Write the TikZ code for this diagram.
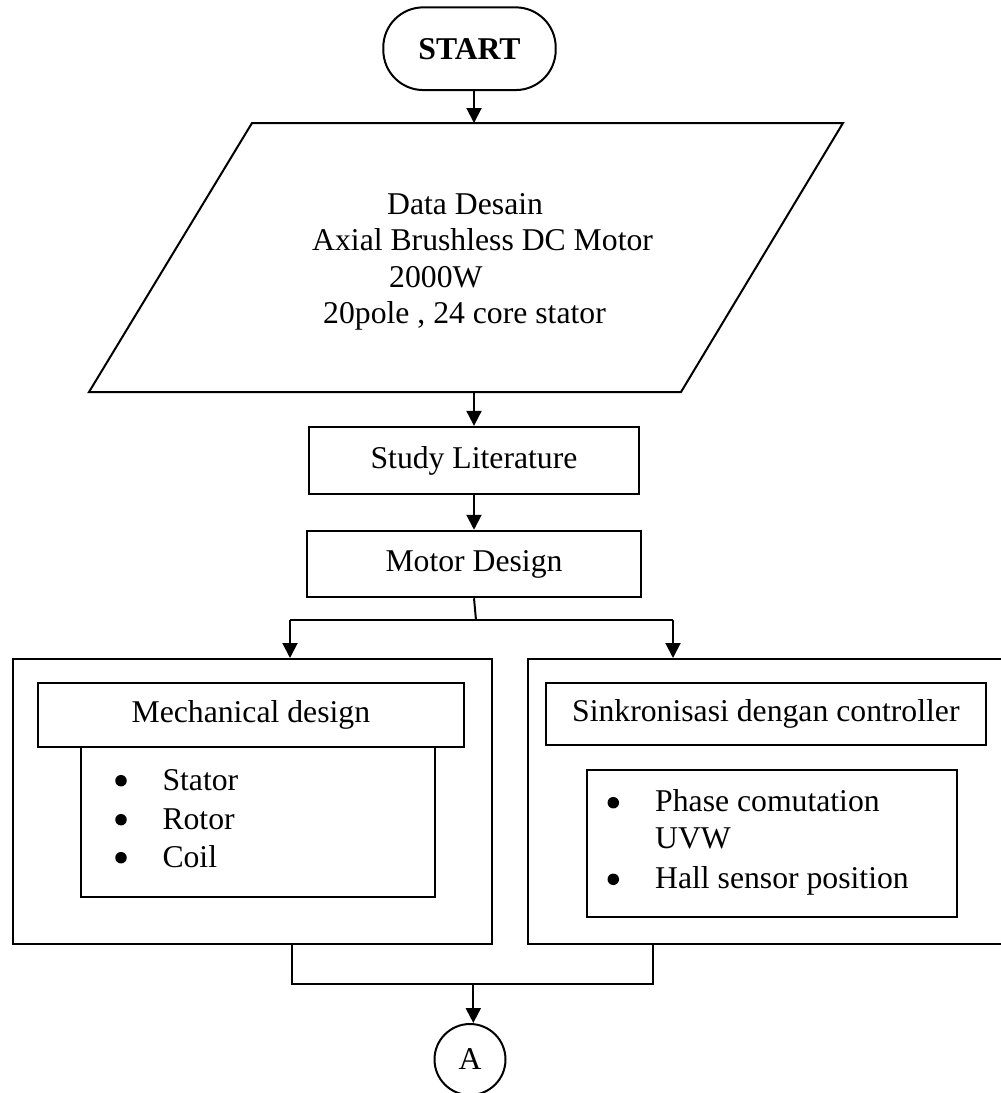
\documentclass[tikz,border=0pt]{standalone}
\usepackage{fontspec}
\setmainfont{Liberation Serif}
\usetikzlibrary{arrows.meta}
\newcommand{\myfs}{\fontsize{31.7pt}{38pt}\selectfont}
\tikzset{
  ln/.style={line width=2pt},
  boxnode/.style={draw, ln, rectangle, inner sep=0pt, align=center},
  arr/.style={ln, -{Triangle[length=15pt,width=15pt]}},
  txt/.style={inner sep=0pt, anchor=base west},
  bul/.style={circle, fill=black, inner sep=0pt, minimum size=11.5pt},
}
\begin{document}
\begin{tikzpicture}[x=1pt, y=-1pt, font=\myfs]
\useasboundingbox (0,0) rectangle (1001,1093);

% START
\node[boxnode, rounded corners=40pt, minimum width=172.4pt, minimum height=82.7pt, font=\myfs\bfseries] (start) at (469.5,48.7) {START};

% Data parallelogram
\coordinate (pTL) at (252,123);
\coordinate (pTR) at (843,123);
\coordinate (pBR) at (681,392);
\coordinate (pBL) at (89,392);
\draw[ln] (pTL) -- (pTR) -- (pBR) -- (pBL) -- cycle;
\coordinate (dtop) at (474,123);
\coordinate (dbot) at (474,392);
\node[txt] (d1) at (387,214) {Data Desain};
\node[txt] (d2) at (312,250) {Axial Brushless DC Motor};
\node[txt] (d3) at (389,287) {2000W};
\node[txt] (d4) at (323,323) {20pole , 24 core stator};

% Study / Motor
\node[boxnode, minimum width=330pt, minimum height=67.3pt] (study) at (474,460.5) {Study Literature};
\node[boxnode, minimum width=334pt, minimum height=66.5pt] (motor) at (474,564) {Motor Design};

% Outer boxes
\node[boxnode, minimum width=479pt, minimum height=285pt] (lout) at (252.5,801.5) {};
\node[boxnode, minimum width=482.3pt, minimum height=285pt] (rout) at (768.85,801.5) {};

% Left inner
\node[boxnode, minimum width=426.3pt, minimum height=63.4pt] (mech) at (250.85,715) {Mechanical design};
\node[boxnode, minimum width=354pt, minimum height=150pt] (llist) at (258,822) {};
\node[bul] (lb1) at (121,780.7) {};
\node[bul] (lb2) at (121,819.7) {};
\node[bul] (lb3) at (121,857.7) {};
\node[txt] (lt1) at (162.3,790) {Stator};
\node[txt] (lt2) at (162.3,829) {Rotor};
\node[txt] (lt3) at (162.3,867) {Coil};

% Right inner
\node[boxnode, minimum width=439.7pt, minimum height=62.3pt] (sink) at (765.85,713.85) {Sinkronisasi dengan controller};
\node[boxnode, minimum width=370pt, minimum height=147pt] (rlist) at (771.7,843.5) {};
\node[bul] (rb1) at (613.3,802.7) {};
\node[bul] (rb2) at (613.3,879.3) {};
\node[txt] (rt1) at (655,811.7) {Phase comutation};
\node[txt] (rt1b) at (655,848.3) {UVW};
\node[txt] (rt2) at (655,888.3) {Hall sensor position};

% Connector A
\node[draw, ln, circle, minimum size=71pt, inner sep=0pt] (a) at (470,1059.5) {A};

% Connectors
\draw[arr] (start.south -| dtop) -- (dtop);
\draw[arr] (dbot) -- (study.north);
\draw[arr] (study.south) -- (motor.north);

\coordinate (j1) at (476,620);
\coordinate (jl) at (290,620);
\coordinate (jr) at (673,620);
\draw[ln] (motor.south) -- (j1);
\draw[ln] (jl) -- (jr);
\draw[arr] (jl) -- (jl |- lout.north);
\draw[arr] (jr) -- (jr |- rout.north);

\coordinate (bl) at (291.7,984);
\coordinate (br) at (653.3,984);
\coordinate (bm) at (473.3,984);
\draw[ln] (bl |- lout.south) -- (bl) -- (br) -- (br |- rout.south);
\draw[arr] (bm) -- (bm |- a.north);
\end{tikzpicture}
\end{document}
